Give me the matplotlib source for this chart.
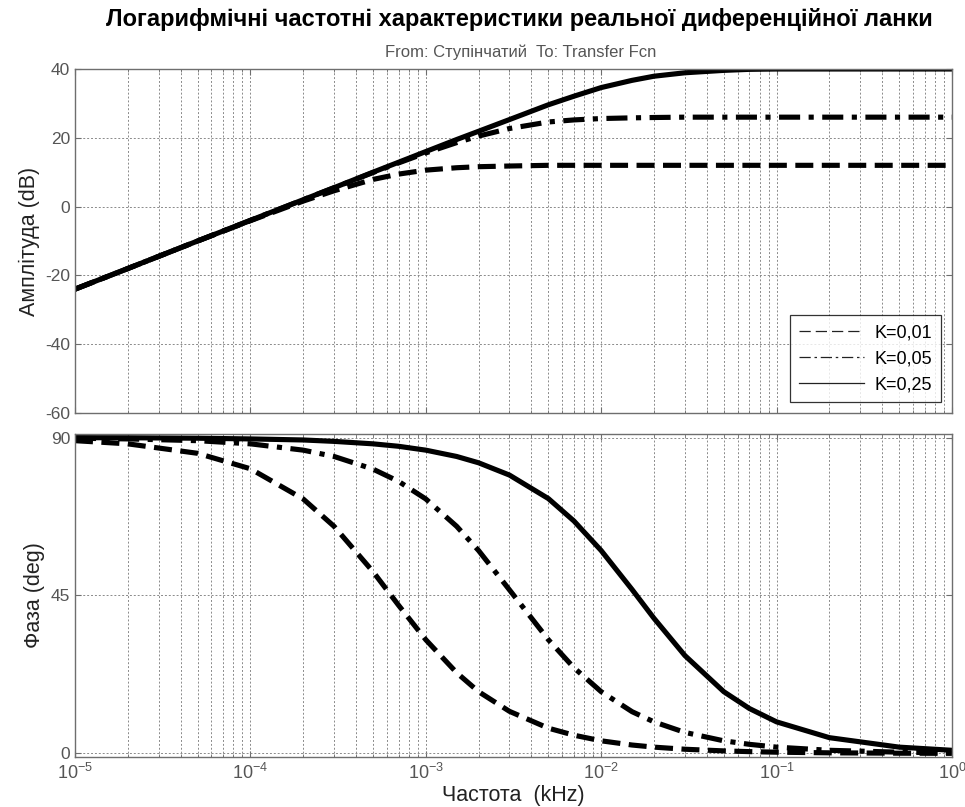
import matplotlib
matplotlib.use("Agg")
import matplotlib.pyplot as plt
from matplotlib.lines import Line2D
from matplotlib.ticker import LogLocator, LogFormatterMathtext, FixedLocator, NullFormatter

plt.rcParams['font.family'] = ['Liberation Sans', 'DejaVu Sans']
plt.rcParams['mathtext.fontset'] = 'custom'
plt.rcParams['mathtext.rm'] = 'Liberation Sans'
plt.rcParams['axes.unicode_minus'] = False

# ---- data ----
freq = [1e-5, 2e-5, 5e-5, 1e-4, 2e-4, 3e-4, 5e-4, 7e-4, 1e-3, 1.5e-3, 2e-3, 3e-3,
        5e-3, 7e-3, 1e-2, 1.5e-2, 2e-2, 3e-2, 5e-2, 7e-2, 0.1, 0.2, 0.5, 1.0]

mag_k001 = [-24.0, -18.0, -10.0, -4.1, 1.6, 4.6, 7.9, 9.45, 10.6, 11.3, 11.6, 11.8,
            12.0, 12.0, 12.0, 12.0, 12.0, 12.0, 12.0, 12.0, 12.0, 12.0, 12.0, 12.0]
mag_k005 = [-24.0, -18.0, -10.0, -4.0, 2.0, 5.5, 9.9, 12.7, 15.6, 18.6, 20.5, 22.7,
            24.6, 25.2, 25.6, 25.8, 25.9, 26.0, 26.0, 26.0, 26.0, 26.0, 26.0, 26.0]
mag_k025 = [-24.0, -18.0, -10.0, -4.0, 2.0, 5.5, 10.0, 12.9, 16.0, 19.5, 21.9, 25.3,
            29.6, 32.1, 34.6, 36.7, 37.9, 38.9, 39.6, 39.9, 40.0, 40.0, 40.0, 40.0]

ph_k001 = [89.1, 88.2, 85.5, 81.1, 72.5, 64.7, 51.8, 42.2, 32.4, 23.0, 17.6, 12.0,
           7.2, 5.2, 3.6, 2.4, 1.8, 1.2, 0.73, 0.52, 0.36, 0.18, 0.07, 0.04]
ph_k005 = [89.8, 89.6, 89.1, 88.2, 86.4, 84.6, 81.0, 77.5, 72.5, 64.7, 57.8, 46.6,
           32.4, 24.4, 17.6, 11.9, 9.0, 6.0, 3.6, 2.6, 1.8, 0.9, 0.36, 0.18]
ph_k025 = [89.96, 89.93, 89.8, 89.6, 89.3, 88.9, 88.2, 87.5, 86.4, 84.6, 82.8, 79.3,
           72.6, 66.2, 57.8, 46.7, 38.5, 27.9, 17.6, 12.8, 9.0, 4.5, 1.8, 0.9]

labels = ["K=0,01", "K=0,05", "K=0,25"]
mags = [mag_k001, mag_k005, mag_k025]
phases = [ph_k001, ph_k005, ph_k025]

title = "Логарифмічні частотні характеристики реальної диференційної ланки"
subtitle = "From: Ступінчатий  To: Transfer Fcn"

# ---- styling ----
styles = [(0, (3.5, 1.65)), (0, (4.1, 1.65, 1.0, 1.65)), '-']
gray = '#6e6e6e'
tick_gray = '#555555'
lw = 3.7

fig = plt.figure(figsize=(9.65, 8.07), dpi=100)
ax1 = fig.add_axes([0.0777, 0.4882, 0.9088, 0.4263])
ax2 = fig.add_axes([0.0777, 0.0620, 0.9088, 0.4002], sharex=ax1)

for m, p, ls in zip(mags, phases, styles):
    ax1.plot(freq, m, color='black', lw=lw, linestyle=ls, solid_capstyle='butt',
             dash_capstyle='butt')
    ax2.plot(freq, p, color='black', lw=lw, linestyle=ls, solid_capstyle='butt',
             dash_capstyle='butt')

for ax in (ax1, ax2):
    ax.set_xscale('log')
    ax.set_xlim(1e-5, 1.0)
    ax.xaxis.set_major_locator(LogLocator(base=10, numticks=10))
    ax.xaxis.set_minor_locator(LogLocator(base=10, subs=range(2, 10), numticks=20))
    ax.grid(True, which='major', axis='both', linestyle=(0, (2, 2)), color='#8a8a8a', lw=0.7)
    ax.grid(True, which='minor', axis='x', linestyle=(0, (2, 2)), color='#8a8a8a', lw=0.7)
    ax.tick_params(which='both', direction='in', top=True, right=True, colors=gray,
                   labelcolor=tick_gray, labelsize=12.5)
    ax.tick_params(which='major', length=4)
    ax.tick_params(which='minor', length=2)
    for s in ax.spines.values():
        s.set_color(gray)
        s.set_linewidth(1.0)

ax1.set_ylim(-60, 40)
ax1.yaxis.set_major_locator(FixedLocator([-60, -40, -20, 0, 20, 40]))
ax1.tick_params(axis='x', which='both', labelbottom=False)

ax2.set_ylim(-1, 91)
ax2.yaxis.set_major_locator(FixedLocator([0, 45, 90]))
ax2.xaxis.set_major_formatter(LogFormatterMathtext())
ax2.xaxis.set_minor_formatter(NullFormatter())
ax2.tick_params(axis='x', which='major', pad=4, labelsize=13)

ax1.set_ylabel("Амплітуда (dB)", fontsize=15.5, color='#222222', labelpad=4)
ax2.set_ylabel("Фаза (deg)", fontsize=15.5, color='#222222', labelpad=4)
ax2.set_xlabel("Частота  (kHz)", fontsize=15.5, color='#222222', labelpad=2)

fig.text(0.538, 0.976, title, ha='center', va='center', fontsize=17, fontweight='bold')
fig.text(0.54, 0.935, subtitle, ha='center', va='center', fontsize=12, color='#555555')

handles = [Line2D([0], [0], color='#222222', lw=0.9, linestyle=ls) for ls in
           [(0, (9, 4)), (0, (9, 3, 2, 3)), '-']]
leg = ax1.legend(handles, labels, loc='lower right', fontsize=13, frameon=True,
                 fancybox=False, edgecolor='black', handlelength=3.6,
                 borderaxespad=0.6, labelspacing=0.5, handletextpad=0.6,
                 borderpad=0.5)
leg.get_frame().set_linewidth(0.9)

fig.savefig("out.png", dpi=100)
